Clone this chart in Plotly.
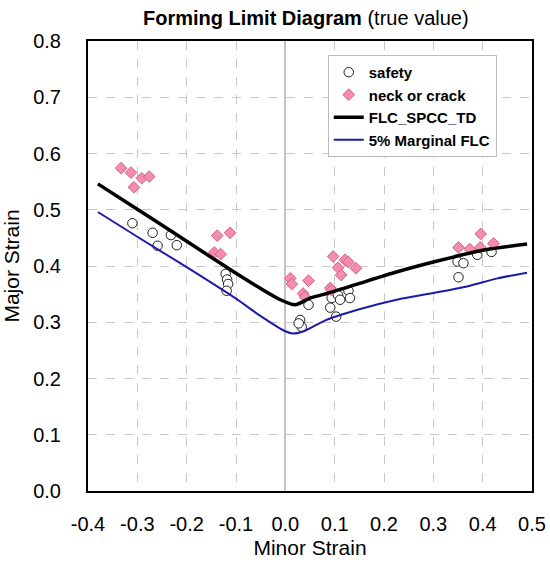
import plotly.graph_objects as go

# Safety points (open circles)
safety_x = [-0.310, -0.269, -0.259, -0.232, -0.220, -0.121, -0.118, -0.116, -0.119,
            0.030, 0.033, 0.027, 0.047, 0.091, 0.094, 0.107, 0.111, 0.103, 0.128, 0.131,
            0.349, 0.361, 0.351, 0.389, 0.418]
safety_y = [0.476, 0.459, 0.436, 0.455, 0.437, 0.386, 0.376, 0.368, 0.356,
            0.304, 0.292, 0.298, 0.331, 0.326, 0.343, 0.348, 0.340, 0.310, 0.356, 0.343,
            0.408, 0.405, 0.380, 0.420, 0.425]

# Neck or crack points (pink diamonds)
neck_x = [-0.333, -0.313, -0.291, -0.276, -0.307, -0.138, -0.112, -0.144, -0.131,
          0.010, 0.013, 0.047, 0.036, 0.040, 0.091, 0.094, 0.097, 0.107, 0.113, 0.121,
          0.128, 0.143, 0.351, 0.374, 0.395, 0.396, 0.422]
neck_y = [0.574, 0.566, 0.556, 0.559, 0.540, 0.454, 0.459, 0.424, 0.421,
          0.378, 0.368, 0.374, 0.351, 0.345, 0.361, 0.357, 0.417, 0.397, 0.384, 0.411,
          0.407, 0.396, 0.433, 0.430, 0.433, 0.457, 0.440]

# FLC_SPCC_TD curve
flc_x = [-0.38, -0.3, -0.2, -0.1, -0.05, -0.01, 0.02, 0.05, 0.08, 0.15, 0.22, 0.3, 0.4, 0.49]
flc_y = [0.546, 0.501, 0.444, 0.387, 0.360, 0.340, 0.331, 0.343, 0.350, 0.369, 0.388, 0.407, 0.428, 0.439]

# 5% Marginal FLC curve
mflc_x = [-0.38, -0.3, -0.2, -0.1, -0.05, 0.0, 0.015, 0.04, 0.08, 0.15, 0.23, 0.3, 0.37, 0.43, 0.49]
mflc_y = [0.496, 0.452, 0.398, 0.342, 0.311, 0.284, 0.280, 0.285, 0.303, 0.323, 0.341, 0.352, 0.364, 0.378, 0.388]

x_ticks = [-0.4, -0.3, -0.2, -0.1, 0.0, 0.1, 0.2, 0.3, 0.4, 0.5]
y_ticks = [0.0, 0.1, 0.2, 0.3, 0.4, 0.5, 0.6, 0.7, 0.8]

FONT = "Liberation Sans, Arial, sans-serif"

fig = go.Figure()
fig.add_trace(go.Scatter(
    x=safety_x, y=safety_y, mode="markers", name="<b>safety</b>",
    marker=dict(symbol="circle", size=9.5, color="white",
                line=dict(color="#222222", width=1))))
fig.add_trace(go.Scatter(
    x=neck_x, y=neck_y, mode="markers", name="<b>neck or crack</b>",
    marker=dict(symbol="diamond", size=9, color="#F38DAB",
                line=dict(color="#D8628A", width=1))))
fig.add_trace(go.Scatter(
    x=flc_x, y=flc_y, mode="lines", name="<b>FLC_SPCC_TD</b>",
    line=dict(color="black", width=3.5, shape="spline", smoothing=0.6)))
fig.add_trace(go.Scatter(
    x=mflc_x, y=mflc_y, mode="lines", name="<b>5% Marginal FLC</b>",
    line=dict(color="#1c1ca8", width=2, shape="spline", smoothing=0.6)))

fig.update_layout(
    width=550, height=563,
    margin=dict(l=88, r=18, t=41, b=72),
    paper_bgcolor="white", plot_bgcolor="white",
    font=dict(family=FONT, color="black"),
    title=dict(text="<b>Forming Limit Diagram</b> (true value)",
               x=0.556, xanchor="center", y=0.968, yanchor="middle",
               font=dict(size=20, family=FONT)),
    showlegend=True,
    legend=dict(x=0.54, y=0.969, xanchor="left", yanchor="top",
                bgcolor="white", bordercolor="#bbbbbb", borderwidth=1,
                font=dict(size=15, family=FONT), tracegroupgap=0,
                itemwidth=30),
)
fig.update_xaxes(
    range=[-0.4, 0.5], tickvals=x_ticks, ticktext=[f"{v:.1f}" for v in x_ticks],
    showline=True, linecolor="black", linewidth=2, mirror=True,
    showgrid=True, gridcolor="#c8c8c8", griddash="dash", gridwidth=1,
    zeroline=True, zerolinecolor="#c4c4c4", zerolinewidth=1.5,
    ticks="", ticklabelstandoff=14, automargin=False,
    tickfont=dict(size=20, family=FONT),
    title=dict(text="Minor Strain", font=dict(size=21, family=FONT), standoff=6),
)
fig.update_yaxes(
    range=[0.0, 0.8], tickvals=y_ticks, ticktext=[f"{v:.1f}" for v in y_ticks],
    showline=True, linecolor="black", linewidth=2, mirror=True,
    showgrid=True, gridcolor="#c8c8c8", griddash="dash", gridwidth=1,
    zeroline=False,
    ticks="", ticklabelstandoff=21, automargin=False,
    tickfont=dict(size=20, family=FONT),
    title=dict(text="Major Strain", font=dict(size=21, family=FONT), standoff=10),
)

fig.write_html("out.html")
